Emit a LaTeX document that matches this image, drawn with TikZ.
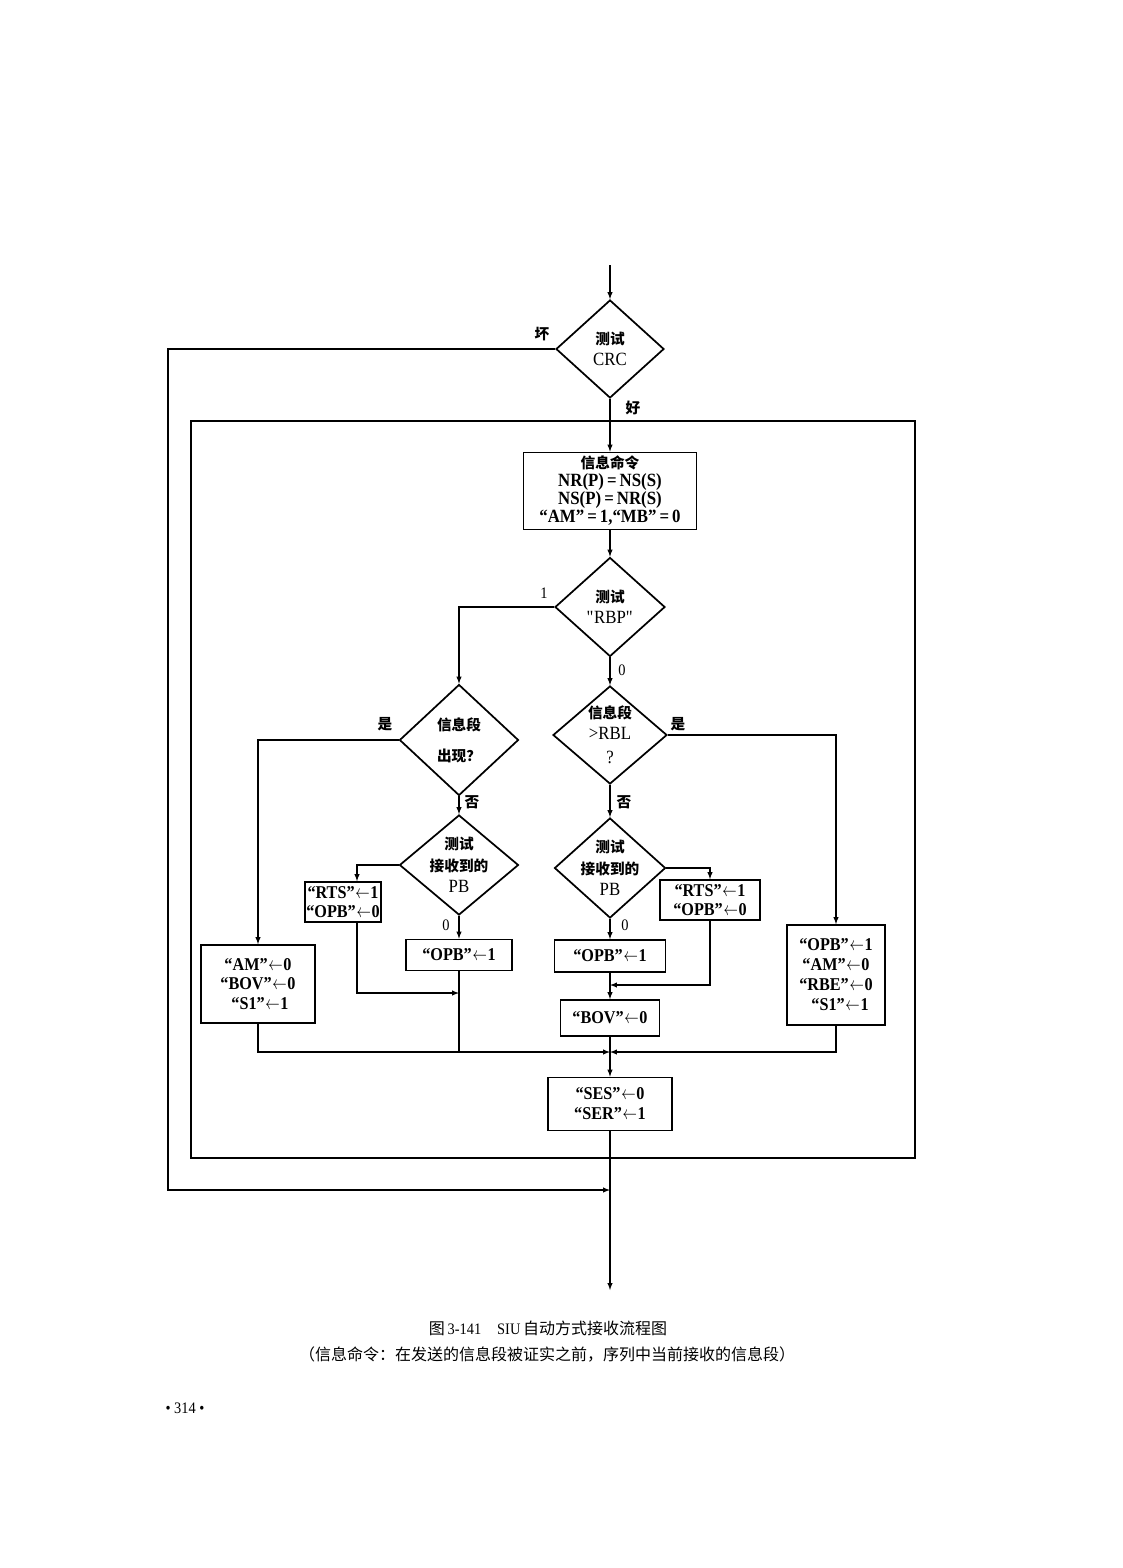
\documentclass[tikz,border=0pt]{standalone}
\usepackage{fontspec}
\usepackage{graphicx}
\setmainfont{Liberation Serif}[FakeStretch=0.9]
\newfontfamily\cjk{Noto Sans CJK SC}
\usetikzlibrary{shapes.geometric}
\newcommand\asg{\kern0.5pt\scalebox{0.75}[1]{$\leftarrow$}\kern0.5pt}
\newcommand\zh[1]{{\cjk\bfseries\fontsize{11}{13}\selectfont #1}}

\begin{document}
\begin{tikzpicture}
  [x=0.75pt,y=-0.75pt,>=latex,line width=0.8pt,
   proc/.style={draw,line width=1.3pt,align=center,inner sep=1pt,font=\fontsize{13.5}{14.5}\selectfont\bfseries},
   decision/.style={diamond,draw,line width=1.3pt,align=center,inner sep=-2pt,aspect=1.1,font=\fontsize{14}{16}\selectfont},
   lbl/.style={inner sep=0pt,font=\fontsize{11}{13}\selectfont\cjk\bfseries},
   num/.style={inner sep=0pt,font=\fontsize{12}{14}\selectfont}]
  \useasboundingbox (0,0) rectangle (1122,1568);

  \coordinate (start) at (610,265);
  \coordinate (stop) at (610,1290);
  \coordinate (back) at (168,1190);
  \coordinate (jLoop) at (610,1190);
  \coordinate (jL) at (459,993);
  \coordinate (jR) at (610,985);
  \coordinate (jB) at (610,1052);

  \node[decision,minimum width=81pt,minimum height=73.5pt] (crc) at (610,349) {\zh{测试}\\CRC};
  \node[proc,minimum width=129.75pt,minimum height=57.75pt,font=\fontsize{14}{13.5}\selectfont\bfseries] (info) at (610,491)
    {\zh{信息命令}\\NR(P)\,=\,NS(S)\\NS(P)\,=\,NR(S)\\“AM”\,=\,1,“MB”\,=\,0};
  \node[decision,minimum width=82.5pt,minimum height=74.25pt] (rbp) at (610,607) {\zh{测试}\\\textquotedbl RBP\textquotedbl};

  \node[decision,minimum width=89.25pt,minimum height=83.25pt] (pres) at (459,740) {\zh{信息段}\\[7pt]\zh{出现？}};
  \node[decision,minimum width=89.25pt,minimum height=75pt] (testL) at (459,865) {\zh{测试}\\\zh{接收到的}\\PB};
  \node[proc,minimum width=55.5pt,minimum height=30pt] (rtsL) at (343,902) {“RTS”\asg1\\“OPB”\asg0};
  \node[proc,minimum width=79.5pt,minimum height=23.25pt] (opbL) at (459,955) {“OPB”\asg1};
  \node[proc,minimum width=85.5pt,minimum height=58.5pt] (am) at (258,984) {“AM”\asg0\\“BOV”\asg0\\\ “S1”\asg1};

  \node[decision,minimum width=85.5pt,minimum height=73.5pt] (rbl) at (610,735) {\zh{信息段}\\>RBL\\[2pt]?};
  \node[decision,minimum width=83.25pt,minimum height=75pt] (testR) at (610,868) {\zh{测试}\\\zh{接收到的}\\PB};
  \node[proc,minimum width=75pt,minimum height=30pt] (rtsR) at (710,900) {“RTS”\asg1\\“OPB”\asg0};
  \node[proc,minimum width=83.25pt,minimum height=24pt] (opbR) at (610,956) {“OPB”\asg1};
  \node[proc,minimum width=74.25pt,minimum height=27pt] (bov) at (610,1018) {“BOV”\asg0};
  \node[proc,minimum width=73.5pt,minimum height=75pt,font=\fontsize{13.5}{15}\selectfont\bfseries] (big) at (836,975)
    {“OPB”\asg1\\“AM”\asg0\\“RBE”\asg0\\\ \ “S1”\asg1};
  \node[proc,minimum width=93pt,minimum height=39.75pt,font=\fontsize{13.5}{15}\selectfont\bfseries] (ses) at (610,1104) {“SES”\asg0\\“SER”\asg1};

  \draw (191,421) rectangle (915,1158);

  \draw[->] (start) -- (crc);
  \draw[->] (crc.west) -| (back) -- (jLoop);
  \draw[->] (crc) -- (info);
  \draw[->] (info) -- (rbp);
  \draw[->] (rbp.west) -| (pres.north);
  \draw[->] (rbp) -- (rbl);

  \draw[->] (pres.west) -| (am.north);
  \draw[->] (pres) -- (testL);
  \draw[->] (testL.west) -| ([xshift=10.5pt]rtsL.north);
  \draw[->] ([xshift=10.5pt]rtsL.south) |- (jL);
  \draw[->] (testL) -- (opbL);
  \draw (opbL.south) -- (opbL.south |- jB);
  \draw[->] (am.south) |- (jB);

  \draw[->] (rbl.east) -| (big.north);
  \draw[->] (rbl) -- (testR);
  \draw[->] (testR.east) -| (rtsR.north);
  \draw[->] (rtsR.south) |- (jR);
  \draw[->] (testR) -- (opbR);
  \draw[->] (opbR) -- (bov);
  \draw[->] (big.south) |- (jB);
  \draw[->] (bov) -- (ses);
  \draw[->] (ses) -- (stop);

  \node[lbl] (bad) at (542,334) {坏};
  \node[lbl] (good) at (633,408) {好};
  \node[num] (one) at (544,593) {1};
  \node[num] (zero) at (622,670) {0};
  \node[lbl] (yesL) at (385,724) {是};
  \node[lbl] (yesR) at (678,724) {是};
  \node[lbl] (noL) at (472,802) {否};
  \node[lbl] (noR) at (624,802) {否};
  \node[num] (zeroL) at (446,925) {0};
  \node[num] (zeroR) at (625,925) {0};

  \node[font=\fontsize{12}{14}\selectfont] (title) at (548,1328) {{\cjk 图}\,3-141\quad SIU\,{\cjk 自动方式接收流程图}};
  \node[font=\fontsize{12}{14}\selectfont\cjk] (note) at (547,1354) {（信息命令：在发送的信息段被证实之前，序列中当前接收的信息段）};
  \node[font=\fontsize{12}{14}\selectfont] (page) at (185,1408) {• 314 •};
\end{tikzpicture}
\end{document}
